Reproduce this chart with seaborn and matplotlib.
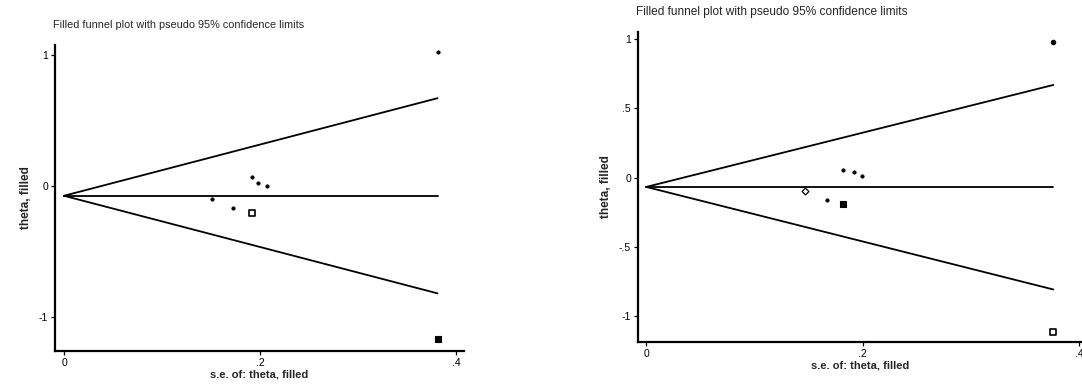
import numpy as np
import pandas as pd
import matplotlib
matplotlib.use("Agg")
import matplotlib.pyplot as plt
import seaborn as sns

# ---------------- data ----------------
title = "Filled funnel plot with pseudo 95% confidence limits"
xlabel = "s.e. of: theta, filled"
ylabel = "theta, filled"

# Left panel
left_se = [0.381, 0.381, 0.192, 0.198, 0.207, 0.151, 0.172, 0.192]
left_theta = [1.02, -1.17, 0.07, 0.02, 0.00, -0.10, -0.17, -0.21]
left_kind = ["dot", "square_filled", "dot", "dot", "dot", "dot", "dot", "square_open"]
left_line_se = [0.0, 0.381]
left_center = [-0.075, -0.075]
left_upper = [-0.075, 0.67]
left_lower = [-0.075, -0.82]
left_yticks = [1, 0, -1]
left_yticklabels = ["1", "0", "-1"]

# Right panel
right_se = [0.376, 0.376, 0.182, 0.192, 0.199, 0.147, 0.167, 0.182]
right_theta = [0.98, -1.12, 0.053, 0.04, 0.012, -0.10, -0.16, -0.19]
right_kind = ["dot_big", "square_open", "dot", "dot", "dot", "diamond_open", "dot", "square_filled"]
right_line_se = [0.0, 0.376]
right_center = [-0.068, -0.068]
right_upper = [-0.068, 0.67]
right_lower = [-0.068, -0.81]
right_yticks = [1, 0.5, 0, -0.5, -1]
right_yticklabels = ["1", ".5", "0", "-.5", "-1"]

xticks = [0, 0.2, 0.4]
xticklabels = ["0", ".2", ".4"]

# ---------------- style ----------------
sns.set_style("ticks")
plt.rcParams["font.family"] = ["Liberation Sans", "DejaVu Sans"]

marker_styles = {
    "dot": dict(marker="o", s=6, facecolor="black", edgecolor="black", linewidth=0.5),
    "dot_big": dict(marker="o", s=12, facecolor="black", edgecolor="black", linewidth=0.5),
    "square_filled": dict(marker="s", s=24, facecolor="black", edgecolor="black", linewidth=0.8),
    "square_open": dict(marker="s", s=20, facecolor="white", edgecolor="black", linewidth=1.2),
    "diamond_open": dict(marker="D", s=12, facecolor="white", edgecolor="black", linewidth=0.9),
}

fig = plt.figure(figsize=(10.82, 3.85), dpi=100)
axL = fig.add_axes([55 / 1082, 1 - 351 / 385, (464 - 55) / 1082, (351 - 45) / 385])
axR = fig.add_axes([638 / 1082, 1 - 342 / 385, (1082 - 638) / 1082, (342 - 32) / 385])


def draw(ax, se, theta, kind, lse, cen, up, lo, yt, ytl, xlim, ylim, fs_title, title_xy):
    df = pd.DataFrame({"se": se, "theta": theta, "kind": kind})
    for ys in (cen, up, lo):
        sns.lineplot(x=lse, y=ys, ax=ax, color="black", linewidth=1.3, estimator=None)
    for k, sub in df.groupby("kind"):
        sns.scatterplot(data=sub, x="se", y="theta", ax=ax, **marker_styles[k], zorder=5)
    ax.set_xlim(*xlim)
    ax.set_ylim(*ylim)
    ax.set_xticks(xticks)
    ax.set_xticklabels(xticklabels)
    ax.set_yticks(yt)
    ax.set_yticklabels(ytl)
    ax.tick_params(axis="both", labelsize=7.5, length=3, width=0.9, colors="black", pad=2)
    for sp in ("top", "right"):
        ax.spines[sp].set_visible(False)
    for sp in ("left", "bottom"):
        ax.spines[sp].set_linewidth(1.6)
        ax.spines[sp].set_color("black")
    ax.set_xlabel(xlabel, fontsize=8, fontweight="bold", labelpad=1)
    ax.set_ylabel(ylabel, fontsize=8.5, fontweight="bold", labelpad=5)
    fig.text(title_xy[0], title_xy[1], title, fontsize=fs_title, ha="left", va="center")


draw(axL, left_se, left_theta, left_kind, left_line_se, left_center, left_upper, left_lower,
     left_yticks, left_yticklabels, (-0.0092, 0.408), (-1.26, 1.076), 7.8, (53 / 1082, 1 - 25 / 385))
draw(axR, right_se, right_theta, right_kind, right_line_se, right_center, right_upper, right_lower,
     right_yticks, right_yticklabels, (-0.0076, 0.4025), (-1.19, 1.053), 8.6, (636 / 1082, 1 - 12 / 385))

fig.savefig("out.png", dpi=100, facecolor="white")
